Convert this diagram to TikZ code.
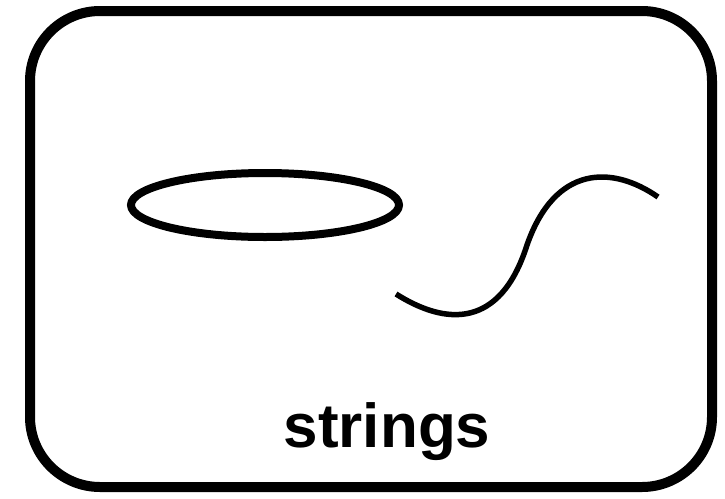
\documentclass[tikz,border=0pt]{standalone}
\usepackage{fontspec}
\setmainfont{Liberation Sans}
\usepackage{tikz}
\usetikzlibrary{shapes.geometric}

\begin{document}
\begin{tikzpicture}[
  x=1pt, y=-1pt,
  frame/.style={draw=black, line width=10pt, rounded corners=70pt},
  loopstring/.style={draw=black, line width=8pt},
  openstring/.style={draw=black, line width=5.5pt},
  caption/.style={font=\fontsize{62}{72}\selectfont\bfseries, anchor=base},
]
\useasboundingbox (0,0) rectangle (725,498);

\draw[frame] (30,11) rectangle (712,487);

% closed string
\node[loopstring, ellipse, minimum width=268pt, minimum height=64pt,
      inner sep=0pt] (closed) at (265,205) {};

% open string
\coordinate (oa) at (396,294);
\coordinate (ob) at (527,245);
\coordinate (oc) at (658,197);
\draw[openstring] (oa) .. controls (445,325) and (500,330) .. (ob)
  .. controls (555,165) and (612,165) .. (oc);

\node[caption] (label) at (387,447) {strings};
\end{tikzpicture}
\end{document}
